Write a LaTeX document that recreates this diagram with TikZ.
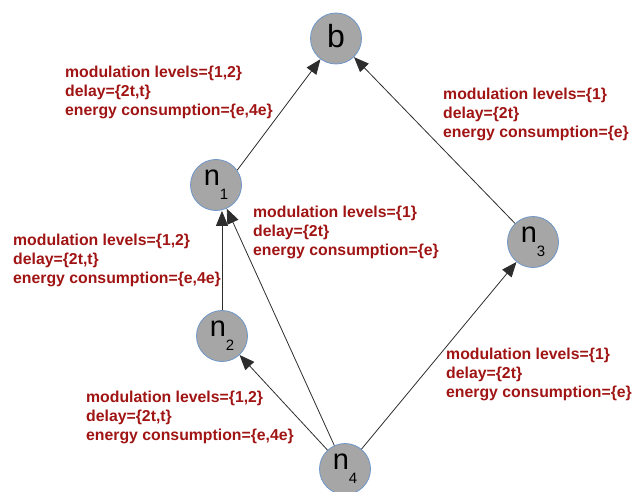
\documentclass[tikz,border=0pt]{standalone}
\usepackage{fontspec}
\setmainfont{Liberation Sans}
\usetikzlibrary{arrows.meta}
\definecolor{labelred}{RGB}{160,20,20}
\definecolor{nodegray}{RGB}{166,166,166}
\definecolor{nodeedge}{RGB}{110,150,200}
\definecolor{edgegray}{RGB}{45,45,45}
% node name "n" with a lowered index
\newcommand{\nsub}[1]{\raisebox{3.7pt}{\fontsize{29}{29}\selectfont n\raisebox{-14pt}{\fontsize{15}{15}\selectfont #1}}}
\begin{document}
\begin{tikzpicture}[x=1pt,y=-1pt,
  vertex/.style={circle, fill=nodegray, draw=nodeedge, line width=0.8pt,
                 minimum size=51pt, inner sep=0pt},
  link/.style={draw=edgegray, line width=0.8pt,
               -{Triangle[length=15pt,width=12pt]}},
  info/.style={anchor=north west, inner sep=0pt, align=left, text=labelred,
               font=\fontsize{15.8}{19}\selectfont\bfseries}]
\useasboundingbox (0,0) rectangle (634,492);

% sensor nodes and base station
\node[vertex] (b)  at (336,38.5) {\raisebox{5pt}{\fontsize{32}{32}\selectfont b}};
\node[vertex] (n1) at (216,185) {\nsub{1}};
\node[vertex] (n2) at (222,336) {\nsub{2}};
\node[vertex] (n3) at (533,242) {\nsub{3}};
\node[vertex] (n4) at (345,469) {\nsub{4}};

% links
\draw[link] (n1.35) -- (b);
\draw[link] (n3) -- (b);
\draw[link] (n2.north) -- (n2.north |- n1.south);
\draw[link] (n4) -- (n1);
\draw[link] (n4) -- (n2);
\draw[link] (n4) -- (n3);

% link parameters
\node[info] (la) at (65,66)  {modulation levels=\{1,2\}\\delay=\{2t,t\}\\energy consumption=\{e,4e\}};
\node[info] (lb) at (253,206) {modulation levels=\{1\}\\delay=\{2t\}\\energy consumption=\{e\}};
\node[info] (lc) at (443,88)  {modulation levels=\{1\}\\delay=\{2t\}\\energy consumption=\{e\}};
\node[info] (ld) at (13,234)  {modulation levels=\{1,2\}\\delay=\{2t,t\}\\energy consumption=\{e,4e\}};
\node[info] (le) at (446,348) {modulation levels=\{1\}\\delay=\{2t\}\\energy consumption=\{e\}};
\node[info] (lf) at (86,391)  {modulation levels=\{1,2\}\\delay=\{2t,t\}\\energy consumption=\{e,4e\}};
\end{tikzpicture}
\end{document}
